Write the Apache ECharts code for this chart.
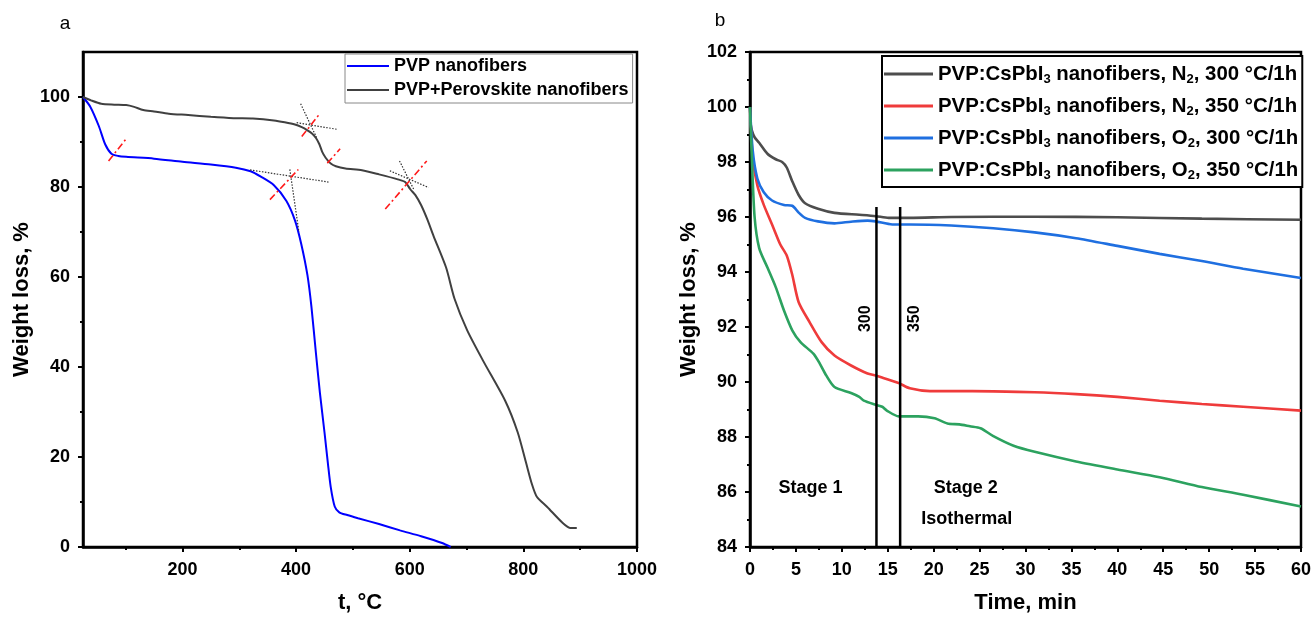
<!DOCTYPE html>
<html>
<head>
<meta charset="utf-8">
<script src="https://cdn.jsdelivr.net/npm/echarts@6/dist/echarts.min.js"></script>
<style>html,body{margin:0;padding:0;background:#fff}#c{width:1314px;height:619px}</style>
</head>
<body>
<div id="c"></div>
<script>
// ---------- Panel a data ----------
const pvpT = [25,38,53,64,75,87,101,150,200,250,294,320,338,361,383,398,409,420,427,435,442,450,456,461,468,476,490,509,546,583,620,657,672];
const pvpW = [100,97.8,93.5,89.5,87.4,86.9,86.7,86.3,85.6,85.0,84.3,83.5,82.3,80.4,76.9,72.6,67.4,60.4,53.4,43.0,34.2,25.5,18.6,13.3,9.0,7.7,7.1,6.4,5.1,3.7,2.4,0.9,0];
const perT = [25,40,57,80,101,115,131,150,176,210,250,290,324,361,380,398,410,420,428,435,441,446,452,461,470,487,516,546,579,592,601,610,620,631,642,664,679,701,730,768,790,805,815,824,842,868,883,894];
const perW = [100,99.2,98.5,98.3,98.2,97.8,97.1,96.8,96.3,96.0,95.6,95.3,95.2,94.8,94.4,93.9,93.3,92.6,91.9,90.9,89.5,87.8,86.5,85.2,84.6,84.1,83.7,82.8,81.7,81.1,79.5,78.2,76.0,72.8,69.1,62.1,55.1,48.2,41.2,32.5,25.5,18.6,14.0,11.1,8.9,5.5,4.2,4.2];
const tangentDotted = [
  [[408,98.5],[436,91.0]],
  [[401,94.3],[473,92.8]],
  [[319,83.8],[457,81.1]],
  [[389,83.9],[405,70.0]],
  [[582,85.8],[607,79.5]],
  [[565,83.6],[633,79.9]]
];
const tangentRed = [
  [[410,91.2],[440.5,96.1]],
  [[455,85.3],[477.5,88.5]],
  [[354,77.2],[404,83.9]],
  [[557,75.1],[630,85.8]],
  [[70,85.8],[101,90.7]]
];
const aXLabels = [200,400,600,800,1000];
const aXMinor = [100,300,500,700,900];
const aYLabels = [0,20,40,60,80,100];
const aYMinor = [10,30,50,70,90];

// ---------- Panel b data ----------
const n2_300T = [0.05,0.2,0.5,1,1.9,2.8,3.5,4,4.6,5.3,6,7.4,9.2,11.9,13.7,15.1,17.4,21.9,31,40,49.2,60];
const n2_300W = [99.4,99.15,98.9,98.7,98.3,98.1,98.0,97.8,97.3,96.8,96.5,96.3,96.15,96.08,96.03,95.97,95.97,96.0,96.01,95.99,95.94,95.9];
const n2_350T = [0,0.3,0.8,1.5,2.4,3.3,4,4.6,5.3,6.5,7.8,9.2,11,12.8,13.7,14.6,16.2,17.4,19.6,21.9,26.5,31,35.5,40,44.6,49.2,53.7,60];
const n2_350W = [100,98.15,97.15,96.44,95.73,95.0,94.6,93.9,92.9,92.17,91.45,90.96,90.6,90.31,90.24,90.14,89.96,89.77,89.67,89.67,89.66,89.63,89.56,89.46,89.32,89.2,89.1,88.96];
const o2_300T = [0,0.3,0.8,1.5,2.4,3.7,4.6,5.3,6,7.4,9.2,11,12.8,13.7,15.5,17.4,21.9,26.5,31,35.5,40,44.6,49.2,53.7,60];
const o2_300W = [100,98.4,97.4,96.9,96.6,96.44,96.41,96.16,95.97,95.84,95.77,95.83,95.87,95.84,95.73,95.73,95.69,95.59,95.44,95.23,94.95,94.66,94.4,94.12,93.78];
const o2_350T = [0,0.2,0.5,1,1.9,2.8,3.7,4.6,5.5,6.9,7.6,8.3,9.2,11,11.9,12.4,13.7,14.4,14.9,16.2,18.3,20.1,21.5,22.8,23.95,25.1,26.5,28.7,31,35.5,40,44.6,49.2,53.7,60];
const o2_350W = [100,98.15,96.0,94.87,94.16,93.45,92.6,91.88,91.45,91.03,90.67,90.24,89.82,89.6,89.46,89.32,89.17,89.1,88.96,88.75,88.75,88.68,88.49,88.46,88.39,88.32,88.03,87.68,87.46,87.11,86.82,86.54,86.18,85.9,85.47];
const bNames = [
  'PVP:CsPbI3 nanofibers, N2, 300 °C/1h',
  'PVP:CsPbI3 nanofibers, N2, 350 °C/1h',
  'PVP:CsPbI3 nanofibers, O2, 300 °C/1h',
  'PVP:CsPbI3 nanofibers, O2, 350 °C/1h'
];
const stageLines = [[13.77,84,96.36],[16.35,84,96.36]];
const stageLineLabels = [[12.6,92.3,'300'],[17.9,92.3,'350']];
const stageTexts = [[6.6,86.15,'Stage 1'],[23.5,86.15,'Stage 2'],[23.6,85.0,'Isothermal']];

const zip = (a,b) => a.map((v,i)=>[v,b[i]]);
const FONT = 'Liberation Sans, Arial, sans-serif';

const chart = echarts.init(document.getElementById('c'), null, {renderer:'canvas'});

const axisCommon = {
  axisLine:{show:true, lineStyle:{color:'#000', width:2.5}},
  splitLine:{show:false},
  axisLabel:{color:'#000', fontFamily:FONT, fontWeight:'bold', fontSize:18, formatter:v=>String(v)},
  nameTextStyle:{color:'#000', fontFamily:FONT, fontWeight:'bold', fontSize:22}
};

const series = [];
series.push({name:'PVP nanofibers', type:'line', xAxisIndex:0, yAxisIndex:0, data:zip(pvpT,pvpW), symbol:'none', smooth:0.25, lineStyle:{color:'#0000ff', width:2}, itemStyle:{color:'#0000ff'}, z:3});
series.push({name:'PVP+Perovskite nanofibers', type:'line', xAxisIndex:0, yAxisIndex:0, data:zip(perT,perW), symbol:'none', smooth:0.25, lineStyle:{color:'#404040', width:2}, itemStyle:{color:'#404040'}, z:3});
tangentDotted.forEach(seg=>series.push({type:'line', xAxisIndex:0, yAxisIndex:0, data:seg, symbol:'none', lineStyle:{color:'#333', width:1.2, type:[1.5,1.5]}, z:4, silent:true}));
tangentRed.forEach(seg=>series.push({type:'line', xAxisIndex:0, yAxisIndex:0, data:seg, symbol:'none', lineStyle:{color:'#ff1a1a', width:1.6, type:[7,3,2,3]}, z:5, silent:true}));

const bCols = ['#4d4d4d','#ef3b3b','#1f6fe0','#2ca25f'];
const bData = [zip(n2_300T,n2_300W), zip(n2_350T,n2_350W), zip(o2_300T,o2_300W), zip(o2_350T,o2_350W)];
bNames.forEach((n,i)=>series.push({name:n, type:'line', xAxisIndex:2, yAxisIndex:2, data:bData[i], symbol:'none', smooth:0.25, lineStyle:{color:bCols[i], width:2.6}, itemStyle:{color:bCols[i]}, z:3}));
stageLines.forEach(l=>series.push({type:'line', xAxisIndex:2, yAxisIndex:2, data:[[l[0],l[1]],[l[0],l[2]]], symbol:'none', lineStyle:{color:'#000', width:2.5}, z:6, silent:true}));

const subFmt = n => n.replace('I3','I{sub|3}').replace('N2','N{sub|2}').replace('O2','O{sub|2}');

chart.setOption({
  animation:false,
  backgroundColor:'#fff',
  grid:[
    {left:83, top:52, width:554, height:498, show:true, borderColor:'#000', borderWidth:2.5, backgroundColor:'rgba(0,0,0,0)'},
    {left:750, top:52, width:552, height:498, show:true, borderColor:'#000', borderWidth:2.5, backgroundColor:'rgba(0,0,0,0)'}
  ],
  legend:[
    {data:['PVP nanofibers','PVP+Perovskite nanofibers'], orient:'vertical', left:345, top:54, padding:[2,4,3,2], itemGap:4,
     icon:'rect', itemWidth:42, itemHeight:2, borderColor:'#888', borderWidth:1, backgroundColor:'#fff',
     textStyle:{color:'#000', fontFamily:FONT, fontWeight:'bold', fontSize:18, lineHeight:20}},
    {data:bNames, orient:'vertical', left:882, top:56, padding:[6,4,5,2], itemGap:8,
     icon:'rect', itemWidth:49, itemHeight:3, borderColor:'#000', borderWidth:2, backgroundColor:'#fff',
     formatter:subFmt,
     textStyle:{color:'#000', fontFamily:FONT, fontWeight:'bold', fontSize:20.4, lineHeight:24,
       rich:{sub:{fontFamily:FONT, fontWeight:'bold', fontSize:13, lineHeight:13, verticalAlign:'bottom', color:'#000'}}}}
  ],
  xAxis:[
    Object.assign({}, axisCommon, {gridIndex:0, type:'value', position:'bottom', min:25, max:1000, name:'t, °C', nameLocation:'middle', nameGap:45,
      axisTick:{show:true, inside:false, length:5, lineStyle:{color:'#000', width:2}, customValues:aXLabels},
      axisLabel:Object.assign({}, axisCommon.axisLabel, {margin:14, customValues:aXLabels})}),
    {gridIndex:0, type:'value', position:'bottom', min:25, max:1000, axisLine:{show:false}, splitLine:{show:false}, axisLabel:{show:false},
      axisTick:{show:true, length:3, lineStyle:{color:'#000', width:2}, customValues:aXMinor}},
    Object.assign({}, axisCommon, {gridIndex:1, type:'value', position:'bottom', min:0, max:60, interval:5, name:'Time, min', nameLocation:'middle', nameGap:45,
      axisTick:{show:true, length:5, lineStyle:{color:'#000', width:2}},
      minorTick:{show:true, splitNumber:2, length:3, lineStyle:{color:'#000', width:2}},
      axisLabel:Object.assign({}, axisCommon.axisLabel, {margin:14})})
  ],
  yAxis:[
    Object.assign({}, axisCommon, {gridIndex:0, type:'value', position:'left', min:0, max:110, name:'Weight loss, %', nameLocation:'middle', nameGap:50,
      axisTick:{show:true, length:5, lineStyle:{color:'#000', width:2}, customValues:aYLabels},
      axisLabel:Object.assign({}, axisCommon.axisLabel, {margin:13, customValues:aYLabels})}),
    {gridIndex:0, type:'value', position:'left', min:0, max:110, axisLine:{show:false}, splitLine:{show:false}, axisLabel:{show:false},
      axisTick:{show:true, length:3, lineStyle:{color:'#000', width:2}, customValues:aYMinor}},
    Object.assign({}, axisCommon, {gridIndex:1, type:'value', position:'left', min:84, max:102, interval:2, name:'Weight loss, %', nameLocation:'middle', nameGap:50,
      axisTick:{show:true, length:5, lineStyle:{color:'#000', width:2}},
      minorTick:{show:true, splitNumber:2, length:3, lineStyle:{color:'#000', width:2}},
      axisLabel:Object.assign({}, axisCommon.axisLabel, {margin:13})})
  ],
  series:series
});

// Text annotations placed through the chart's own scales
const toPx = (x,y) => chart.convertToPixel({xAxisIndex:2, yAxisIndex:2}, [x,y]);
const graphics = [
  {type:'text', x:65, y:24, style:{text:'a', font:'19px '+FONT, fill:'#000', textAlign:'center', textVerticalAlign:'middle'}},
  {type:'text', x:720, y:21, style:{text:'b', font:'19px '+FONT, fill:'#000', textAlign:'center', textVerticalAlign:'middle'}}
];
stageTexts.forEach(s=>{const p=toPx(s[0],s[1]); graphics.push({type:'text', x:p[0], y:p[1], z:10,
  style:{text:s[2], font:'bold 18px '+FONT, fill:'#000', textAlign:'center', textVerticalAlign:'middle'}});});
stageLineLabels.forEach(s=>{const p=toPx(s[0],s[1]); graphics.push({type:'text', x:p[0], y:p[1], rotation:Math.PI/2, z:10,
  style:{text:s[2], font:'bold 16px '+FONT, fill:'#000', textAlign:'center', textVerticalAlign:'middle'}});});
chart.setOption({graphic:graphics});
</script>
</body>
</html>
